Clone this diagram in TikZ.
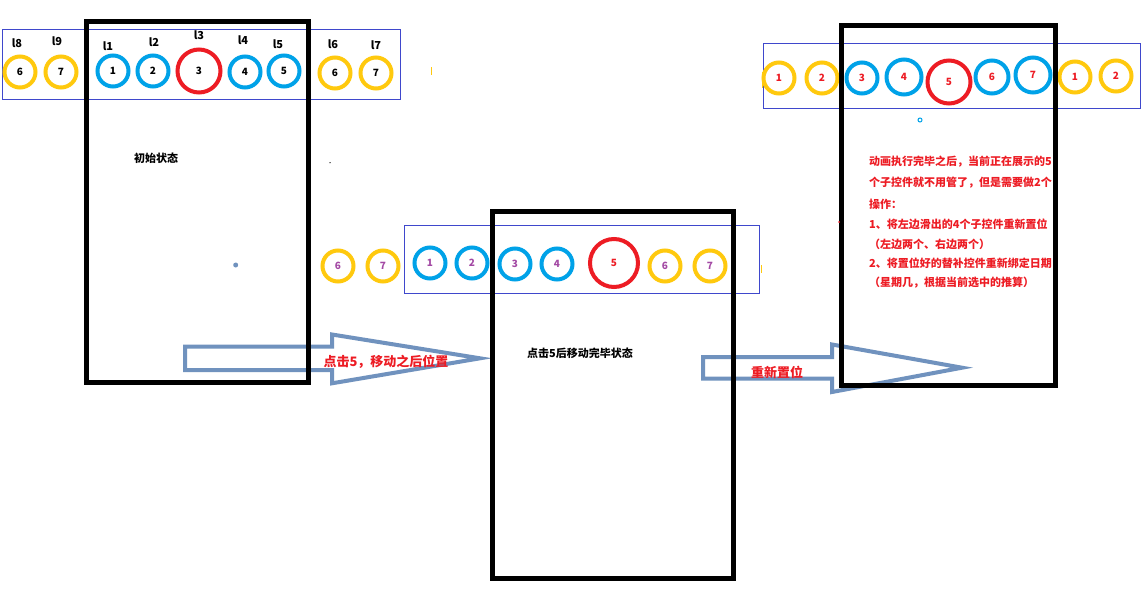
\documentclass[tikz,border=0pt]{standalone}
\usepackage{fontspec}
\setmainfont{Noto Sans CJK SC}
\definecolor{py}{RGB}{255,201,14}
\definecolor{pb}{RGB}{0,162,232}
\definecolor{pr}{RGB}{237,28,36}
\definecolor{pp}{RGB}{163,73,164}
\definecolor{ab}{RGB}{112,146,190}
\definecolor{rb}{RGB}{63,72,204}
\tikzset{
  ring/.style={circle, draw, line width=4pt, minimum size=31pt, inner sep=0pt,
    font=\fontsize{10}{12}\selectfont\bfseries},
  yring/.style={ring, draw=py},
  bring/.style={ring, draw=pb},
  rring/.style={ring, draw=pr},
  lbl/.style={font=\fontsize{11}{13}\selectfont\bfseries, inner sep=0pt},
  phone/.style={draw=black, line width=5pt},
  strip/.style={draw=rb, line width=1pt},
  blockarrow/.style={draw=ab, line width=4pt, line join=miter},
  arrowtext/.style={font=\fontsize{13}{15}\selectfont\bfseries, text=pr, inner sep=0pt},
  notetext/.style={font=\fontsize{11}{13}\selectfont\bfseries, text=pr, inner sep=0pt, anchor=west},
}
\begin{document}
\begin{tikzpicture}[x=1pt,y=-1pt]
\useasboundingbox[fill=white] (0,0) rectangle (1143,589);

% ---------- strips ----------
\draw[strip] (2,29) rectangle (400,99);
\draw[strip] (404,225) rectangle (759,293);
\draw[strip] (763,43) rectangle (1140,108);

% ---------- initial state row ----------
\node[yring] (a8) at (20,72) {6};
\node[yring] (a9) at (61,72) {7};
\node[bring] (a1) at (113,71) {1};
\node[bring] (a2) at (153,71) {2};
\node[rring, minimum size=43pt] (a3) at (199,71) {3};
\node[bring] (a4) at (245,72) {4};
\node[bring] (a5) at (284,71) {5};
\node[yring] (a6) at (335,73) {6};
\node[yring] (a7) at (376,73) {7};
\node[lbl] (l8) at (17,43) {l8};
\node[lbl] (l9) at (57,41) {l9};
\node[lbl] (l1) at (108,46) {l1};
\node[lbl] (l2) at (154,42) {l2};
\node[lbl] (l3) at (199,35) {l3};
\node[lbl] (l4) at (243,40) {l4};
\node[lbl] (l5) at (278,44) {l5};
\node[lbl] (l6) at (333,44) {l6};
\node[lbl] (l7) at (376,45) {l7};

% ---------- middle row ----------
\begin{scope}[every node/.append style={text=pp}]
\node[yring] (b6a) at (338,266) {6};
\node[yring] (b7a) at (383,266) {7};
\node[bring] (b1) at (430,263) {1};
\node[bring] (b2) at (472,263) {2};
\node[bring] (b3) at (515,264) {3};
\node[bring] (b4) at (557,264) {4};
\node[rring, minimum size=48pt, text=pr] (b5) at (614,263) {5};
\node[yring] (b6) at (665,266) {6};
\node[yring] (b7) at (710,266) {7};
\end{scope}

% ---------- right row ----------
\begin{scope}[every node/.append style={text=pr}]
\node[yring] (c1a) at (779,78) {1};
\node[yring] (c2a) at (822,78) {2};
\node[bring] (c3) at (862,78) {3};
\node[bring, minimum size=35pt] (c4) at (904,77) {4};
\node[rring, minimum size=43pt] (c5) at (949,82) {5};
\node[bring, minimum size=33pt] (c6) at (992,77) {6};
\node[bring, minimum size=35pt] (c7) at (1033,75) {7};
\node[yring] (c1) at (1075,77) {1};
\node[yring] (c2) at (1116,76) {2};
\end{scope}

% ---------- block arrows ----------
\coordinate (p1) at (185,346.5);
\coordinate (p2) at (332,346.5);
\coordinate (p3) at (332,334.5);
\coordinate (p4) at (480,358.3);
\coordinate (p5) at (332,383.3);
\coordinate (p6) at (332,370);
\coordinate (p7) at (185,370);
\draw[blockarrow] (p1) -- (p2) -- (p3) -- (p4) -- (p5) -- (p6) -- (p7) -- cycle;

\coordinate (q1) at (703,357);
\coordinate (q2) at (832,357);
\coordinate (q3) at (832,344.5);
\coordinate (q4) at (962,367.7);
\coordinate (q5) at (832,392);
\coordinate (q6) at (832,378.7);
\coordinate (q7) at (703,378.7);
\draw[blockarrow] (q1) -- (q2) -- (q3) -- (q4) -- (q5) -- (q6) -- (q7) -- cycle;

% ---------- phones ----------
\draw[phone] (86.5,21) rectangle (308.5,382.5);
\draw[phone] (492.5,211.7) rectangle (733.3,578);
\draw[phone] (841,25) rectangle (1055.5,385);

% ---------- texts ----------
\node[lbl] (t1) at (156,158) {初始状态};
\node[lbl] (t2) at (580,353) {点击5后移动完毕状态};
\node[arrowtext] (t3) at (386,362) {点击5，移动之后位置};
\node[arrowtext] (t4) at (777,372) {重新置位};

\node[notetext] (n1) at (869,162) {动画执行完毕之后，当前正在展示的5};
\node[notetext] (n2) at (869,183) {个子控件就不用管了，但是需要做2个};
\node[notetext] (n3) at (869,204) {操作：};
\node[notetext] (n4) at (869,224) {1、将左边滑出的4个子控件重新置位};
\node[notetext] (n5) at (869,244) {（左边两个、右边两个）};
\node[notetext] (n6) at (869,263) {2、将置位好的替补控件重新绑定日期};
\node[notetext] (n7) at (869,283) {（星期几，根据当前选中的推算）};

% ---------- small marks ----------
\draw[py, line width=1pt] (431.7,67) -- (431.7,75);
\draw[py, line width=1pt] (761,265) -- (761,273);
\draw[py, line width=1.5pt] (762.5,72) -- (762.5,88);
\fill[black] (330,162.7) circle (0.7pt);
\fill[ab] (235.7,265) circle (2.5pt);
\draw[pb, line width=1pt] (920,120) circle (2pt);
\fill[pr] (839,222) circle (1pt);
\end{tikzpicture}
\end{document}
